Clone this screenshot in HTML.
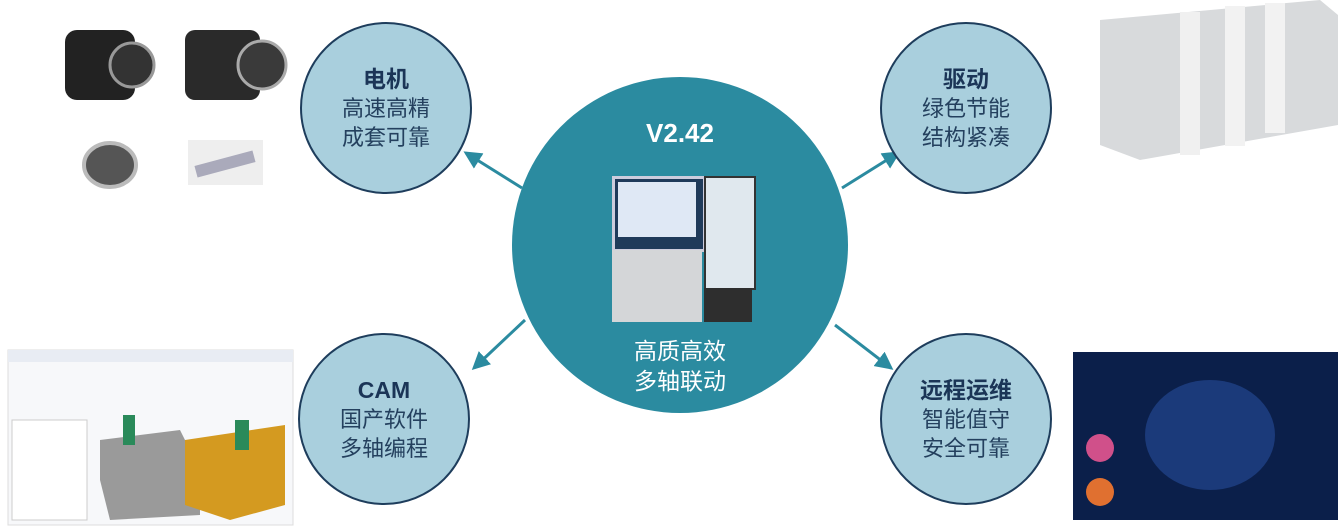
<!DOCTYPE html>
<html><head><meta charset="utf-8"><style>
body{margin:0;width:1338px;height:528px;background:#fff;position:relative;overflow:hidden;font-family:"Liberation Sans","Noto Sans CJK SC",sans-serif}
.c{position:absolute;border-radius:50%;box-sizing:border-box}
.s{background:#a9cfdd;border:2px solid #1e3d5c;width:172px;height:172px;display:flex;flex-direction:column;align-items:center;justify-content:center;color:#24405e;font-size:22px;line-height:29px}
.s b{font-size:23px;color:#1b3557}
.a{position:absolute}
</style></head><body>
<svg class="a" style="left:0;top:0" width="1338" height="528">
<defs><marker id="m" markerWidth="6" markerHeight="6" refX="5" refY="3" orient="auto" markerUnits="strokeWidth"><path d="M0,0 L6,3 L0,6 z" fill="#2b8ba0"/></marker></defs>
<g stroke="#2b8ba0" stroke-width="3" marker-end="url(#m)">
<line x1="522" y1="188" x2="466" y2="153"/>
<line x1="842" y1="188" x2="898" y2="153"/>
<line x1="525" y1="320" x2="474" y2="368"/>
<line x1="835" y1="325" x2="891" y2="368"/>
</g>
<rect x="65" y="30" width="70" height="70" rx="12" fill="#222"/><circle cx="132" cy="65" r="22" fill="#333" stroke="#999" stroke-width="3"/>
<rect x="185" y="30" width="75" height="70" rx="10" fill="#2a2a2a"/><circle cx="262" cy="65" r="24" fill="#3a3a3a" stroke="#aaa" stroke-width="3"/>
<ellipse cx="110" cy="165" rx="26" ry="22" fill="#555" stroke="#bbb" stroke-width="4"/>
<rect x="188" y="140" width="75" height="45" fill="#eee"/><rect x="195" y="158" width="60" height="12" fill="#aab" transform="rotate(-15 225 164)"/>
<polygon points="1100,20 1320,0 1338,15 1338,125 1140,160 1100,145" fill="#d8dadc"/>
<rect x="1180" y="12" width="20" height="143" fill="#f0f0f0"/><rect x="1225" y="6" width="20" height="140" fill="#f2f2f2"/><rect x="1265" y="3" width="20" height="130" fill="#f2f2f2"/>
<rect x="8" y="350" width="285" height="175" fill="#f7f8fa" stroke="#ddd"/>
<rect x="8" y="350" width="285" height="12" fill="#e8ecf3"/>
<rect x="12" y="420" width="75" height="100" fill="#fff" stroke="#ccc"/>
<polygon points="100,440 180,430 200,470 200,515 110,520 100,480" fill="#9a9a9a"/>
<polygon points="185,440 285,425 285,505 230,520 185,505" fill="#d49a20"/>
<rect x="123" y="415" width="12" height="30" fill="#2a8a5a"/><rect x="235" y="420" width="14" height="30" fill="#2a8a5a"/>
<rect x="1073" y="352" width="265" height="168" fill="#0b1f4a"/>
<ellipse cx="1210" cy="435" rx="65" ry="55" fill="#1b3a7a"/>
<circle cx="1100" cy="448" r="14" fill="#d0508a"/><circle cx="1100" cy="492" r="14" fill="#e07030"/>
</svg>
<div class="c" style="left:512px;top:77px;width:336px;height:336px;background:#2b8ba0"></div>
<div class="a" style="left:580px;top:118px;width:200px;text-align:center;color:#fff;font-weight:bold;font-size:26px">V2.42</div>
<div class="a" style="left:612px;top:176px;width:88px;height:70px;background:#1f3a5a;border:3px solid #ccd"></div>
<div class="a" style="left:618px;top:182px;width:78px;height:55px;background:#dfe8f5"></div>
<div class="a" style="left:612px;top:250px;width:90px;height:72px;background:#d4d6d8"></div>
<div class="a" style="left:704px;top:176px;width:48px;height:110px;background:#e0e8ee;border:2px solid #333"></div>
<div class="a" style="left:704px;top:288px;width:48px;height:34px;background:#2e2e2e"></div>
<div class="a" style="left:580px;top:336px;width:200px;text-align:center;color:#fff;font-size:23px;line-height:30px">高质高效<br>多轴联动</div>
<div class="c s" style="left:300px;top:22px"><b>电机</b>高速高精<br>成套可靠</div>
<div class="c s" style="left:880px;top:22px"><b>驱动</b>绿色节能<br>结构紧凑</div>
<div class="c s" style="left:298px;top:333px"><b>CAM</b>国产软件<br>多轴编程</div>
<div class="c s" style="left:880px;top:333px"><b>远程运维</b>智能值守<br>安全可靠</div>
</body></html>
